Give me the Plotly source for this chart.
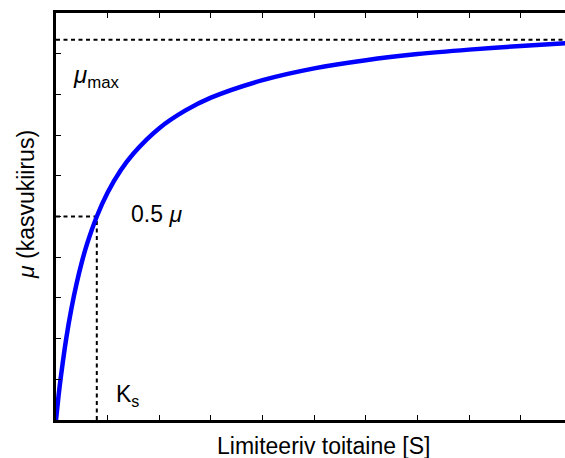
import plotly.graph_objects as go

# Substrate concentration (x) and growth rate (y)
S_values = [0, 0.05, 0.1, 0.2, 0.3, 0.4, 0.5, 0.6, 0.79, 1.0, 1.25, 1.5, 2.0, 2.5, 3.0,
            4.0, 5.0, 6.0, 7.0, 8.0, 9.0, 10.0]
mu_values = [0, 0.060, 0.112, 0.202, 0.275, 0.336, 0.388, 0.432, 0.500, 0.559, 0.613,
             0.655, 0.717, 0.760, 0.792, 0.835, 0.864, 0.884, 0.899, 0.910, 0.919, 0.927]

mu_max_level = 0.934
Ks_value = 0.79
half_level = 0.5

x_title = "Limiteeriv toitaine [S]"
y_title = "<i>μ</i> (kasvukiirus)"

FONT = "Liberation Sans, Arial, Helvetica, sans-serif"
FS = 23

fig = go.Figure()

# dashed guide lines
dash = dict(color="black", width=2, dash="4px,3.5px")
fig.add_trace(go.Scatter(x=[0, 10.5], y=[mu_max_level, mu_max_level], mode="lines",
                         line=dash, hoverinfo="skip", showlegend=False))
fig.add_trace(go.Scatter(x=[0, Ks_value], y=[half_level, half_level], mode="lines",
                         line=dash, hoverinfo="skip", showlegend=False))
fig.add_trace(go.Scatter(x=[Ks_value, Ks_value], y=[0, half_level], mode="lines",
                         line=dash, hoverinfo="skip", showlegend=False))

# Monod curve
fig.add_trace(go.Scatter(x=S_values, y=mu_values, mode="lines",
                         line=dict(color="#0000ff", width=4.5, shape="spline", smoothing=0.8),
                         showlegend=False))

annos = [
    dict(x=0.29, y=0.845, text="<i>μ</i><sub style='font-size:18px'>max</sub>",
         xanchor="left", yanchor="middle", size=24),
    dict(x=1.42, y=0.505, text="0.5 <i>μ</i>", xanchor="left", yanchor="middle", size=23),
    dict(x=1.12, y=0.06, text="K<sub style='font-size:17px'>s</sub>",
         xanchor="left", yanchor="middle", size=23),
]
for a in annos:
    size = a.pop("size")
    fig.add_annotation(xref="x", yref="y", showarrow=False,
                       font=dict(family=FONT, size=size, color="black"), **a)

# axis titles placed as annotations
fig.add_annotation(xref="paper", yref="paper", x=(323 - 56) / (565 - 56), y=-0.065,
                   text=x_title, showarrow=False, xanchor="center", yanchor="middle",
                   font=dict(family=FONT, size=FS, color="black"))
fig.add_annotation(xref="paper", yref="paper", x=(26 - 56) / (565 - 56), y=(420 - 205) / 407,
                   text=y_title, showarrow=False, textangle=-90, xanchor="center",
                   yanchor="middle", font=dict(family=FONT, size=FS, color="black"))

fig.update_layout(
    width=565, height=458,
    margin=dict(l=56, r=0, t=13, b=38),
    paper_bgcolor="white", plot_bgcolor="white",
    font=dict(family=FONT, size=FS, color="black"),
    xaxis=dict(range=[0, (565 - 55.7) / 51.67], dtick=1, tick0=0, showticklabels=False,
               ticks="inside", ticklen=5, tickwidth=1, tickcolor="black",
               showline=True, linewidth=2.7, linecolor="black", mirror="ticks",
               showgrid=False, zeroline=False),
    yaxis=dict(range=[0, 1], dtick=0.1, tick0=0, showticklabels=False,
               ticks="inside", ticklen=5, tickwidth=1, tickcolor="black",
               showline=True, linewidth=2.7, linecolor="black", mirror=False,
               showgrid=False, zeroline=False),
)

fig.write_html("out.html", config={"displayModeBar": False},
               post_script="document.body.style.margin='0';document.body.style.overflow='hidden';")
